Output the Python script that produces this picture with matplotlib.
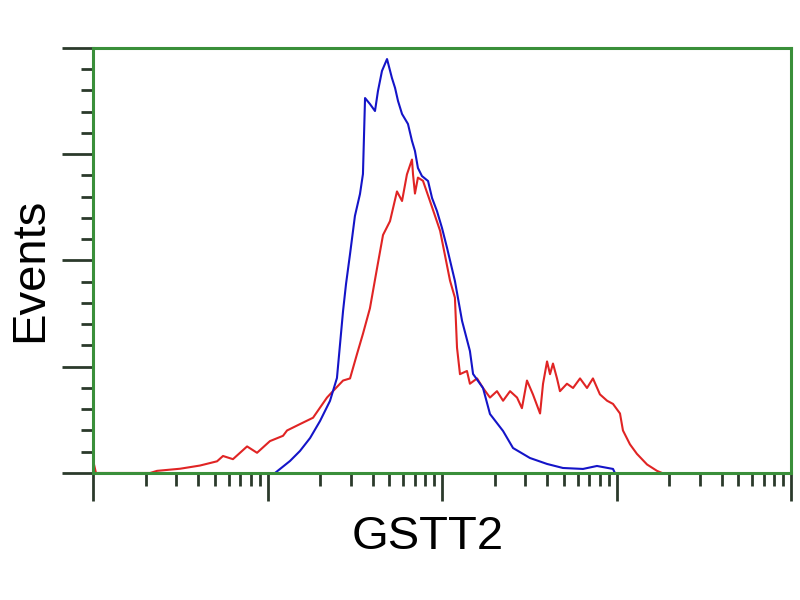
import numpy as np
import matplotlib
matplotlib.use("Agg")
import matplotlib.pyplot as plt
from matplotlib.ticker import LogLocator, MultipleLocator, NullFormatter

# log10 fluorescence intensity and event counts
blue_log = [1.043, 1.072, 1.129, 1.186, 1.244, 1.301, 1.358, 1.398, 1.433, 1.450, 1.473,
            1.501, 1.530, 1.547, 1.559, 1.587, 1.616, 1.633, 1.656, 1.685, 1.713, 1.731,
            1.748, 1.771, 1.805, 1.828, 1.845, 1.862, 1.885, 1.920, 1.943, 1.971, 2.000,
            2.029, 2.074, 2.115, 2.160, 2.178, 2.235, 2.275, 2.350, 2.407, 2.504, 2.602,
            2.693, 2.808, 2.888, 2.980, 2.991]
blue_cnt = [0, 3.8, 11.3, 20.7, 32.9, 48.9, 67.8, 89.4, 152.5, 177.9, 206.1,
            241.9, 262.6, 281.4, 352.9, 347.3, 340.7, 359.5, 378.4, 389.6, 371.8, 362.4,
            350.1, 337.9, 328.5, 312.5, 303.1, 287.1, 279.5, 274.8, 258.8, 246.6, 230.6,
            211.8, 180.7, 143.1, 114.8, 93.2, 80.0, 55.5, 39.5, 23.5, 14.1, 8.5,
            4.7, 3.8, 6.6, 3.8, 0]

red_log = [0.003, 0.017, 0.327, 0.367, 0.499, 0.613, 0.711, 0.745, 0.802, 0.883, 0.940,
           1.014, 1.089, 1.112, 1.186, 1.261, 1.341, 1.375, 1.433, 1.473, 1.513, 1.547,
           1.587, 1.628, 1.662, 1.702, 1.742, 1.771, 1.799, 1.828, 1.834, 1.845, 1.862,
           1.891, 1.931, 1.989, 2.046, 2.074, 2.086, 2.103, 2.143, 2.160, 2.201, 2.235,
           2.275, 2.315, 2.350, 2.390, 2.430, 2.458, 2.487, 2.521, 2.562, 2.579, 2.602,
           2.619, 2.636, 2.659, 2.676, 2.716, 2.751, 2.791, 2.831, 2.865, 2.905, 2.946,
           2.980, 3.020, 3.037, 3.077, 3.117, 3.175, 3.232, 3.261]
red_cnt = [10, 0, 0, 2, 4, 7, 11, 16, 13, 25, 19,
           30, 35, 40, 46, 52, 71, 77, 87, 89, 112, 131,
           155, 193, 224, 237, 265, 256, 281, 295, 281, 263, 278,
           275, 256, 228, 181, 165, 118, 93, 96, 84, 89, 80,
           71, 77, 68, 77, 71, 61, 87, 74, 56, 84, 105,
           93, 103, 89, 77, 84, 80, 89, 80, 89, 74, 68,
           65, 56, 40, 27, 18, 8, 2, 0]

x_label = "GSTT2"
y_label = "Events"

green = "#3a8f3a"
tickc = "#2b3a2b"

fig = plt.figure(figsize=(8, 6), dpi=100)
ax = fig.add_axes([0.11625, 0.2117, 0.8725, 0.7083])

ax.plot(10 ** np.array(red_log), red_cnt, color="#e02424", lw=1.5)
ax.plot(10 ** np.array(blue_log), blue_cnt, color="#1414c8", lw=1.5)

ax.set_xscale("log")
ax.set_xlim(1, 1e4)
ax.set_ylim(0, 400)

ax.xaxis.set_major_locator(LogLocator(base=10, numticks=10))
ax.xaxis.set_minor_locator(LogLocator(base=10, subs=np.arange(2, 10), numticks=100))
ax.xaxis.set_major_formatter(NullFormatter())
ax.xaxis.set_minor_formatter(NullFormatter())
ax.yaxis.set_major_locator(MultipleLocator(100))
ax.yaxis.set_minor_locator(MultipleLocator(20))
ax.yaxis.set_major_formatter(NullFormatter())

ax.tick_params(axis="x", which="major", direction="out", length=20, width=2, color=tickc)
ax.tick_params(axis="x", which="minor", direction="out", length=9, width=2, color=tickc)
ax.tick_params(axis="y", which="major", direction="out", length=22, width=2, color=tickc)
ax.tick_params(axis="y", which="minor", direction="out", length=9, width=2, color=tickc)

for s in ax.spines.values():
    s.set_color(green)
    s.set_linewidth(2.2)

fig.text(0.535, 0.105, x_label, fontsize=34, family="Liberation Sans",
         ha="center", va="center")
fig.text(0.038, 0.55, y_label, fontsize=34, family="Liberation Sans",
         ha="center", va="center", rotation=90)

fig.savefig("out.png", dpi=100)
